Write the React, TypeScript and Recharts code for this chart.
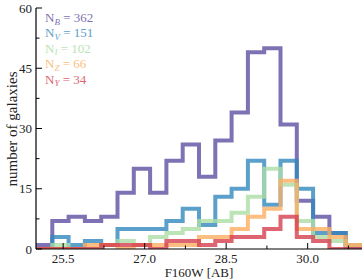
import { Line, LineChart, XAxis, YAxis } from "recharts";

// histogram bin edges in F160W magnitude (0.3 mag bins)
const binEdges = [
  25.0, 25.3, 25.6, 25.9, 26.2, 26.5, 26.8, 27.1, 27.4, 27.7, 28.0, 28.3, 28.6,
  28.9, 29.2, 29.5, 29.8, 30.1, 30.4, 30.7, 31.0,
];

// galaxy counts per bin for each dropout sample
const countsB = [1, 7, 8, 7, 8, 14, 20, 14, 22, 26, 18, 27, 34, 49, 50, 31, 12, 8, 4, 1];
const countsV = [0, 3, 1, 2, 1, 5, 5, 5, 7, 10, 6, 13, 15, 22, 11, 22, 15, 4, 4, 0];
const countsI = [0, 1, 0, 0, 1, 2, 1, 3, 4, 5, 7, 7, 9, 13, 20, 16, 7, 3, 2, 1];
const countsZ = [0, 0, 0, 1, 1, 0, 1, 1, 1, 1, 3, 3, 5, 8, 10, 17, 5, 5, 3, 1];
const countsY = [0, 0, 0, 0, 1, 1, 1, 0, 2, 2, 1, 2, 3, 3, 5, 8, 3, 2, 0, 0];

const xTicks = [25.5, 26.25, 27.0, 27.75, 28.5, 29.25, 30.0, 30.75];
const xMajor = [25.5, 27.0, 28.5, 30.0];
const yTicks = [0, 7.5, 15, 22.5, 30, 37.5, 45, 52.5, 60];
const yMajor = [0, 15, 30, 45, 60];

const series = [
  { key: "B", label: "B", total: 362, color: "#5e4fa2", counts: countsB },
  { key: "V", label: "V", total: 151, color: "#3288bd", counts: countsV },
  { key: "I", label: "I", total: 102, color: "#abdda4", counts: countsI },
  { key: "Z", label: "Z", total: 66, color: "#fdae61", counts: countsZ },
  { key: "Y", label: "Y", total: 34, color: "#d53e4f", counts: countsY },
];

// one row per bin edge; the last edge repeats the final bin so the step closes
const rows = binEdges.map((edge, i) => {
  const row: Record<string, number> = { mag: edge };
  series.forEach((s) => {
    row[s.key] = s.counts[Math.min(i, s.counts.length - 1)];
  });
  return row;
});

const FONT = "'Liberation Serif', 'Times New Roman', serif";

const XTick = (props: any) => {
  const { x, y, payload, side } = props;
  const major = xMajor.includes(payload.value);
  const len = major ? 6 : 3.5;
  const dir = side === "bottom" ? -1 : 1;
  return (
    <g>
      <line x1={x} x2={x} y1={y} y2={y + dir * len} stroke="#000" strokeWidth={1} />
      {side === "bottom" && major && (
        <text x={x} y={y + 14} textAnchor="middle" fontSize={13} fontFamily={FONT} fill="#222">
          {payload.value.toFixed(1)}
        </text>
      )}
    </g>
  );
};

const YTick = (props: any) => {
  const { x, y, payload, side } = props;
  const major = yMajor.includes(payload.value);
  const len = major ? 6 : 3.5;
  const dir = side === "left" ? 1 : -1;
  return (
    <g>
      <line x1={x} x2={x + dir * len} y1={y} y2={y} stroke="#000" strokeWidth={1} />
      {side === "left" && major && (
        <text x={x - 4} y={y + 4.5} textAnchor="end" fontSize={13} fontFamily={FONT} fill="#222">
          {payload.value}
        </text>
      )}
    </g>
  );
};

const axisLine = { stroke: "#000", strokeWidth: 1.2 };

export default function App() {
  return (
    <div style={{ position: "absolute", left: 0, top: 0, width: 364, height: 280, background: "#fff" }}>
      <LineChart
        width={364}
        height={280}
        data={rows}
        margin={{ top: 8, right: 2, bottom: 0, left: 0 }}
      >
        <XAxis
          dataKey="mag"
          type="number"
          domain={[25, 31]}
          ticks={xTicks}
          interval={0}
          allowDataOverflow
          height={31}
          tickSize={0}
          tickMargin={0}
          axisLine={axisLine}
          tickLine={false}
          tick={(p: any) => <XTick {...p} side="bottom" />}
          label={{
            value: "F160W [AB]",
            position: "insideBottom",
            offset: 3,
            style: { fontFamily: FONT, fontSize: 13, fill: "#222" },
          }}
        />
        <XAxis
          xAxisId="top"
          orientation="top"
          type="number"
          domain={[25, 31]}
          ticks={xTicks}
          interval={0}
          height={0}
          tickSize={0}
          tickMargin={0}
          axisLine={axisLine}
          tickLine={false}
          tick={(p: any) => <XTick {...p} side="top" />}
        />
        <YAxis
          type="number"
          domain={[0, 60]}
          ticks={yTicks}
          interval={0}
          allowDataOverflow
          width={36}
          tickSize={0}
          tickMargin={0}
          axisLine={axisLine}
          tickLine={false}
          tick={(p: any) => <YTick {...p} side="left" />}
        />
        <YAxis
          yAxisId="right"
          orientation="right"
          type="number"
          domain={[0, 60]}
          ticks={yTicks}
          interval={0}
          width={0}
          tickSize={0}
          tickMargin={0}
          axisLine={axisLine}
          tickLine={false}
          tick={(p: any) => <YTick {...p} side="right" />}
        />
        {series.map((s) => (
          <Line
            key={s.key}
            dataKey={s.key}
            type="stepAfter"
            stroke={s.color}
            strokeOpacity={0.8}
            strokeWidth={4}
            strokeLinejoin="miter"
            dot={false}
            activeDot={false}
            isAnimationActive={false}
          />
        ))}
      </LineChart>
      <div
        style={{
          position: "absolute",
          left: 12,
          top: 128.5,
          transform: "translate(-50%, -50%) rotate(-90deg)",
          whiteSpace: "nowrap",
          fontFamily: FONT,
          fontSize: 15,
          color: "#222",
        }}
      >
        number of galaxies
      </div>
      <div style={{ position: "absolute", left: 45, top: 11, fontFamily: FONT, fontSize: 13, lineHeight: "14.4px" }}>
        {series.map((s) => (
          <div key={s.key} style={{ color: s.color, opacity: 0.8, whiteSpace: "nowrap" }}>
            N
            <span style={{ fontStyle: "italic", fontSize: 9, position: "relative", top: 2.5 }}>{s.label}</span>
            {" = " + s.total}
          </div>
        ))}
      </div>
    </div>
  );
}
